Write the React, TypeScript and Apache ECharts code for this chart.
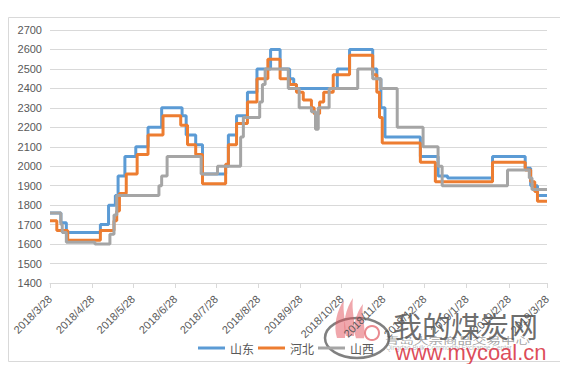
import React, { useEffect, useRef } from "react";
import * as echarts from "echarts";

// ---- data ----
const seriesNames = ["山东", "河北", "山西"];
const colors = ["#5B9BD5", "#ED7D31", "#A5A5A5"];

// change points: [date, value] (value holds until the next point)
const shandong: [string, number][] = [
  ["2018/3/28", 1760], ["2018/4/5", 1710], ["2018/4/9", 1660], ["2018/5/4", 1700],
  ["2018/5/10", 1800], ["2018/5/15", 1850], ["2018/5/17", 1950], ["2018/5/22", 2050],
  ["2018/5/30", 2100], ["2018/6/8", 2200], ["2018/6/18", 2300], ["2018/7/3", 2260],
  ["2018/7/6", 2160], ["2018/7/13", 2110], ["2018/7/18", 1960], ["2018/8/4", 2000],
  ["2018/8/6", 2160], ["2018/8/12", 2260], ["2018/8/20", 2380], ["2018/8/27", 2500],
  ["2018/9/6", 2600], ["2018/9/13", 2500], ["2018/9/20", 2450], ["2018/9/23", 2420],
  ["2018/9/25", 2400], ["2018/10/25", 2500], ["2018/11/3", 2600], ["2018/11/20", 2500],
  ["2018/11/23", 2450], ["2018/11/26", 2300], ["2018/11/29", 2150], ["2018/12/25", 2050],
  ["2019/1/7", 1950], ["2019/1/14", 1940], ["2019/2/16", 2050], ["2019/3/12", 1990],
  ["2019/3/16", 1900], ["2019/3/21", 1850], ["2019/3/28", 1850],
];

const hebei: [string, number][] = [
  ["2018/3/28", 1720], ["2018/4/2", 1670], ["2018/4/10", 1620], ["2018/5/4", 1670],
  ["2018/5/14", 1720], ["2018/5/16", 1770], ["2018/5/18", 1860], ["2018/5/23", 1960],
  ["2018/5/31", 2060], ["2018/6/8", 2160], ["2018/6/19", 2260], ["2018/7/2", 2210],
  ["2018/7/7", 2110], ["2018/7/13", 2060], ["2018/7/18", 1910], ["2018/8/4", 2010],
  ["2018/8/6", 2110], ["2018/8/12", 2220], ["2018/8/20", 2330], ["2018/8/27", 2450],
  ["2018/9/4", 2550], ["2018/9/13", 2450], ["2018/9/20", 2420], ["2018/9/25", 2380],
  ["2018/9/30", 2340], ["2018/10/6", 2300], ["2018/10/8", 2270], ["2018/10/12", 2330],
  ["2018/10/15", 2380], ["2018/10/22", 2470], ["2018/11/3", 2570], ["2018/11/20", 2470],
  ["2018/11/23", 2380], ["2018/11/25", 2250], ["2018/11/27", 2120], ["2018/12/25", 2020],
  ["2019/1/5", 1920], ["2019/2/16", 2020], ["2019/3/12", 1980], ["2019/3/16", 1920],
  ["2019/3/19", 1870], ["2019/3/21", 1820], ["2019/3/28", 1820],
];

const shanxi: [string, number][] = [
  ["2018/3/28", 1760], ["2018/4/5", 1700], ["2018/4/6", 1660], ["2018/4/9", 1610],
  ["2018/4/30", 1600], ["2018/5/11", 1650], ["2018/5/14", 1750], ["2018/5/16", 1850],
  ["2018/6/16", 1900], ["2018/6/18", 1950], ["2018/6/22", 2050], ["2018/7/17", 1960],
  ["2018/7/29", 2000], ["2018/8/15", 2150], ["2018/8/17", 2250], ["2018/8/29", 2330],
  ["2018/8/31", 2420], ["2018/9/2", 2500], ["2018/9/19", 2400], ["2018/9/27", 2300],
  ["2018/10/6", 2280], ["2018/10/9", 2190], ["2018/10/11", 2300], ["2018/10/19", 2400],
  ["2018/11/9", 2500], ["2018/11/20", 2450], ["2018/11/26", 2400], ["2018/12/8", 2200],
  ["2018/12/27", 2100], ["2019/1/7", 2000], ["2019/1/10", 1900], ["2019/2/27", 1980],
  ["2019/3/15", 1940], ["2019/3/17", 1880], ["2019/3/28", 1880],
];

const yMin = 1400;
const yMax = 2700;
const yStep = 100;

// daily categories 2018/3/28 .. 2019/3/28
const categories: string[] = [];
for (let t = Date.UTC(2018, 2, 28); t <= Date.UTC(2019, 2, 28); t += 86400000) {
  const d = new Date(t);
  categories.push(`${d.getUTCFullYear()}/${d.getUTCMonth() + 1}/${d.getUTCDate()}`);
}
const isTickDay = (_i: number, v: string) => String(v).endsWith("/28");

const flamePath = "M2,38 C-2,26 2,10 9,0 C7,12 12,24 10,38 Z";

export default function App() {
  const ref = useRef<HTMLDivElement>(null);
  useEffect(() => {
    if (!ref.current) return;
    echarts.graphic.registerShape("flame", echarts.graphic.extendPath(flamePath, {}) as any);
    const chart = echarts.init(ref.current, undefined, { renderer: "svg" });
    const all = [shandong, hebei, shanxi];
    const option: any = {
      animation: false,
      grid: { left: 42, right: 17, top: 22, bottom: 81, outerBoundsMode: "none" },
      xAxis: {
        type: "category",
        data: categories,
        boundaryGap: false,
        axisLine: { lineStyle: { color: "#D9D9D9", width: 1 } },
        axisTick: { show: true, interval: isTickDay, length: 5, lineStyle: { color: "#D9D9D9" } },
        axisLabel: {
          interval: isTickDay,
          rotate: 45,
          color: "#595959",
          fontSize: 11,
          fontFamily: "Liberation Sans",
          margin: 14,
          hideOverlap: false,
        },
        splitLine: { show: false },
      },
      yAxis: {
        type: "value",
        min: yMin,
        max: yMax,
        interval: yStep,
        axisLine: { show: false },
        axisTick: { show: false },
        axisLabel: {
          color: "#595959",
          fontSize: 11,
          fontFamily: "Liberation Sans",
          margin: 8,
          formatter: (v: number) => String(v),
        },
        splitLine: { lineStyle: { color: "#D9D9D9", width: 1 } },
      },
      legend: {
        data: seriesNames,
        top: 329,
        left: "center",
        icon: "rect",
        itemWidth: 27,
        itemHeight: 3,
        itemGap: 4,
        textStyle: { color: "#595959", fontSize: 12, fontFamily: "Noto Sans CJK SC" },
      },
      series: seriesNames.map((name, i) => ({
        name,
        type: "line",
        step: "end",
        data: all[i],
        showSymbol: false,
        symbol: "none",
        lineStyle: { width: 3, color: colors[i] },
        itemStyle: { color: colors[i] },
      })),
      graphic: [
        {
          type: "rect",
          z: -1,
          shape: { x: 0.5, y: 9.5, width: 553, height: 344 },
          style: { fill: "none", stroke: "#D9D9D9", lineWidth: 1 },
        },
        {
          type: "group",
          z: 100,
          children: [
            {
              type: "ellipse",
              shape: { cx: 349, cy: 330, rx: 32, ry: 20 },
              style: { fill: "none", stroke: "rgba(60,60,60,0.65)", lineWidth: 2.5 },
            },
            {
              type: "circle",
              shape: { cx: 364, cy: 325, r: 7 },
              style: { fill: "none", stroke: "rgba(220,60,70,0.6)", lineWidth: 2 },
            },
            { type: "flame", x: 327, y: 292, style: { fill: "rgba(225,80,90,0.5)" } },
            { type: "flame", x: 336, y: 290, style: { fill: "rgba(225,80,90,0.5)" } },
            { type: "flame", x: 346, y: 296, scaleY: 0.9, style: { fill: "rgba(225,80,90,0.5)" } },
            {
              type: "text",
              x: 385,
              y: 317,
              style: {
                text: "我的煤炭网",
                fontSize: 29,
                fontFamily: "Noto Sans CJK SC",
                fill: "rgba(70,70,70,0.8)",
                verticalAlign: "middle",
              },
            },
            {
              type: "text",
              x: 377,
              y: 332,
              scaleY: 0.65,
              style: {
                text: "青岛大宗商品交易中心",
                fontSize: 14.5,
                fontFamily: "Noto Sans CJK SC",
                fill: "rgba(90,90,90,0.55)",
                verticalAlign: "middle",
              },
            },
            {
              type: "text",
              x: 378,
              y: 339,
              style: {
                text: "Qingdao Bulk Commodity Exchange Center",
                fontSize: 6.5,
                fontFamily: "Liberation Sans",
                fill: "rgba(90,90,90,0.45)",
                verticalAlign: "middle",
              },
            },
            {
              type: "text",
              x: 387,
              y: 344,
              style: {
                text: "www.mycoal.cn",
                fontSize: 22,
                fontFamily: "Liberation Sans",
                fill: "rgba(215,45,60,0.85)",
                verticalAlign: "middle",
              },
            },
          ],
        },
      ],
    };
    chart.setOption(option);
    return () => chart.dispose();
  }, []);
  return <div ref={ref} style={{ width: 556, height: 356 }} />;
}
